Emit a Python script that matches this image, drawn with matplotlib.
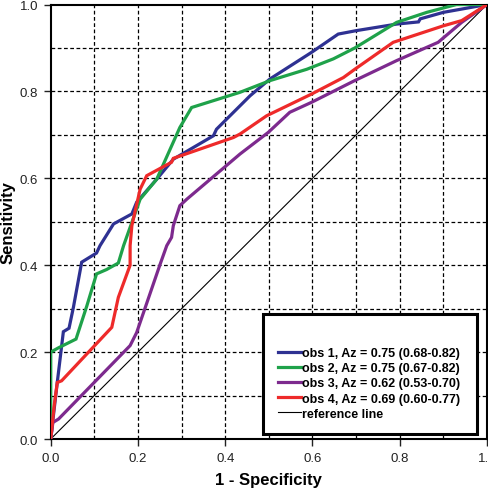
import matplotlib
matplotlib.use("Agg")
import matplotlib.pyplot as plt
from matplotlib.patches import Rectangle

plt.rcParams['font.family'] = ['Liberation Sans', 'DejaVu Sans']

# ROC curve data
obs1_x = [0, 0.015, 0.029, 0.042, 0.052, 0.071, 0.105, 0.113, 0.144, 0.186, 0.197, 0.243, 0.281,
          0.373, 0.38, 0.457, 0.503, 0.598, 0.659, 0.701, 0.793, 0.843, 0.847, 0.9, 1.0]
obs1_y = [0, 0.13, 0.247, 0.255, 0.303, 0.407, 0.428, 0.445, 0.495, 0.518, 0.545, 0.598, 0.644,
          0.698, 0.713, 0.79, 0.829, 0.89, 0.932, 0.94, 0.955, 0.96, 0.967, 0.982, 1.0]

obs2_x = [0, 0, 0.018, 0.058, 0.083, 0.105, 0.128, 0.155, 0.167, 0.205, 0.243, 0.296, 0.323,
          0.434, 0.503, 0.587, 0.648, 0.697, 0.793, 0.862, 0.93, 1.0]
obs2_y = [0, 0.2, 0.21, 0.23, 0.307, 0.38, 0.39, 0.405, 0.445, 0.552, 0.598, 0.717, 0.763,
          0.798, 0.825, 0.851, 0.875, 0.9, 0.959, 0.982, 1.0, 1.0]

obs3_x = [0, 0.005, 0.018, 0.182, 0.197, 0.25, 0.266, 0.277, 0.281, 0.296, 0.312, 0.434, 0.499,
          0.548, 0.598, 0.697, 0.793, 0.888, 0.942, 1.0]
obs3_y = [0, 0.038, 0.046, 0.215, 0.245, 0.4, 0.445, 0.464, 0.491, 0.537, 0.552, 0.656, 0.706,
          0.752, 0.775, 0.825, 0.871, 0.913, 0.959, 1.0]

obs4_x = [0, 0.008, 0.015, 0.025, 0.14, 0.155, 0.182, 0.182, 0.186, 0.205, 0.22, 0.277, 0.281,
          0.419, 0.434, 0.495, 0.598, 0.671, 0.697, 0.785, 0.9, 0.942, 1.0]
obs4_y = [0, 0.077, 0.13, 0.134, 0.257, 0.326, 0.4, 0.445, 0.491, 0.575, 0.606, 0.637, 0.646,
          0.694, 0.702, 0.744, 0.794, 0.832, 0.851, 0.913, 0.951, 0.963, 1.0]

labels = ["obs 1, Az = 0.75 (0.68-0.82)",
          "obs 2, Az = 0.75 (0.67-0.82)",
          "obs 3, Az = 0.62 (0.53-0.70)",
          "obs 4, Az = 0.69 (0.60-0.77)",
          "reference line"]
colors = ["#2e3192", "#1fa24a", "#7d2a8e", "#ee2a2a"]
ticks = [0.0, 0.2, 0.4, 0.6, 0.8, 1.0]
tick_labels = ["0.0", "0.2", "0.4", "0.6", "0.8", "1.0"]

fig = plt.figure(figsize=(4.89, 4.89), dpi=100)
ax = fig.add_axes([0.1037, 0.1002, 0.8922, 0.8885])
ax.set_xlim(0, 1)
ax.set_ylim(0, 1)

grid = [i / 10 for i in range(1, 10)]
for g in grid:
    ax.axvline(g, color='black', lw=0.9, ls=(0, (3, 2)), zorder=1)
    ax.axhline(g, color='black', lw=0.9, ls=(0, (3, 2)), zorder=1)

handles = []
for xs, ys, c in zip([obs1_x, obs2_x, obs3_x, obs4_x], [obs1_y, obs2_y, obs3_y, obs4_y], colors):
    h, = ax.plot(xs, ys, color=c, lw=2.3, zorder=3, solid_joinstyle='miter')
    handles.append(h)
ref, = ax.plot([0, 1], [0, 1], color='black', lw=0.8, zorder=2)
handles.append(ref)

ax.set_xticks(ticks)
ax.set_xticklabels(tick_labels)
ax.set_yticks(ticks)
ax.set_yticklabels(tick_labels)
ax.tick_params(direction='out', length=5, width=1, labelsize=9.5, colors='#222222', pad=4)
for s in ax.spines.values():
    s.set_linewidth(1.5)

ax.set_xlabel("1 - Specificity", fontsize=12, fontweight='bold')
ax.set_ylabel("Sensitivity", fontsize=12, fontweight='bold')
ax.xaxis.set_label_coords(0.5, -0.077)
ax.yaxis.set_label_coords(-0.081, 0.5)

rect = Rectangle((0.487, 0.0115), 0.49, 0.277, transform=ax.transAxes, facecolor='white',
                 edgecolor='black', lw=2.2, zorder=5)
ax.add_patch(rect)

leg = ax.legend(handles, labels, loc='center left', bbox_to_anchor=(0.521, 0.128),
                frameon=False, prop={'size': 9, 'weight': 'bold'}, borderpad=0,
                borderaxespad=0, handlelength=1.85, handletextpad=0.1, labelspacing=0.25)
leg.set_zorder(6)

fig.savefig("out.png", dpi=100)
